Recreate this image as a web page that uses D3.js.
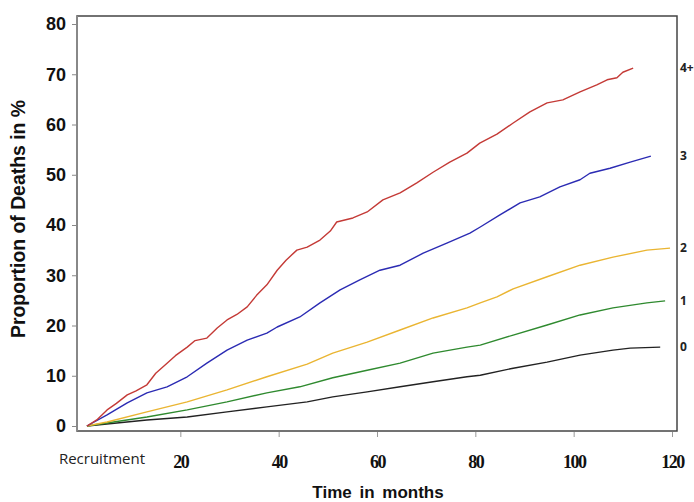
<!DOCTYPE html>
<html>
<head>
<meta charset="utf-8">
<title>Proportion of deaths by group</title>
<script src="https://cdn.jsdelivr.net/npm/d3@7"></script>
</head>
<body style="margin:0;background:#ffffff">
<div id="plot"></div>
<script>
var months0 = [1,13.2,21.4,29.5,37.6,45.8,51,58,64.7,71.4,78.3,81,87.7,94.6,101.3,108,111.5,117.6];
var deaths0 = [0,1.2,1.8,2.8,3.8,4.8,5.8,6.8,7.8,8.8,9.8,10.1,11.5,12.7,14.1,15.1,15.5,15.7];
var months1 = [1,13.2,21.4,29.5,37.6,44.3,51,58,64.7,71.4,78.3,81,87.7,94.6,101.3,108,114.9,118.6];
var deaths1 = [0,1.8,3.2,4.8,6.6,7.8,9.6,11.1,12.5,14.5,15.7,16.1,18.1,20.1,22.1,23.5,24.5,24.9];
var months2 = [1,5.1,13.2,21.4,29.5,37.6,45.8,51,58,64.7,71.4,78.3,81,84.4,87.7,94.6,101.3,108,114.9,119.6];
var deaths2 = [0,0.8,2.8,4.8,7.2,9.8,12.3,14.5,16.7,19.1,21.5,23.5,24.5,25.7,27.3,29.7,32,33.6,35,35.4];
var months3 = [1,5.1,9.2,13.2,17.3,21.4,25.4,29.5,33.6,37.6,39.7,44.3,48.4,52.5,56.5,60.6,64.7,69.4,74.2,78.9,81,85,89.1,93.1,97.2,101.3,103.3,107.4,111.5,115.7];
var deaths3 = [0,2.2,4.6,6.6,7.8,9.8,12.5,15.1,17.1,18.5,19.7,21.7,24.5,27.1,29.1,31,32,34.4,36.4,38.4,39.6,42,44.4,45.6,47.6,49,50.3,51.3,52.5,53.7];
var months4 = [1,3,5.1,7,9.2,11,13.2,15,17.3,19,21.4,23,25.4,27.5,29.5,31.5,33.6,35.5,37.6,39.7,41.5,43.7,45.8,48.4,50.5,51.8,55.1,58,61.2,64.7,68.1,71.4,74.8,78.3,80.9,84.4,87.7,91.1,94.6,97.8,101.3,104.7,106.8,108.8,110,112.1];
var deaths4 = [0,1.2,3.2,4.5,6.2,7,8.2,10.5,12.5,14,15.7,17,17.5,19.5,21.1,22.2,23.7,26,28.1,31,33,35,35.6,37,38.8,40.6,41.4,42.6,45,46.4,48.4,50.5,52.5,54.3,56.3,58.1,60.3,62.5,64.3,64.9,66.5,67.9,68.9,69.3,70.4,71.2];

var labels = ["0","1","2","3","4+"];
var colours = ["#222222","#2f8a2f","#eab532","#2b2bb3","#c43a36"];
var yTickValues = [0,10,20,30,40,50,60,70,80];
var xTickValues = [20,40,60,80,100,120];

function zipSeries(ms, ds){
    return ms.map(function(m,i){ return [m, ds[i]]; });
}

function render(){
    var svg = d3.select("#plot").append("svg")
        .attr("width",694)
        .attr("height",502)
        .attr("viewBox","0 0 694 502");

    var x = d3.scaleLinear().domain([0,120]).range([82,672]);
    var y = d3.scaleLinear().domain([0,80]).range([426,24]);

    // box around the plot
    svg.append("rect")
        .attr("x",77).attr("y",16)
        .attr("width",600).attr("height",415)
        .attr("fill","none")
        .attr("stroke","#444")
        .attr("stroke-width",1.5);
    svg.append("line")
        .attr("x1",77).attr("y1",16).attr("x2",77).attr("y2",431)
        .attr("stroke","#888")
        .attr("stroke-width",2);

    var left = svg.append("g").attr("transform","translate(76,0)")
        .call(d3.axisLeft(y).tickValues(yTickValues).tickSize(4).tickPadding(6));
    left.select(".domain").remove();
    left.selectAll(".tick line").attr("stroke","#888");
    left.selectAll(".tick text")
        .attr("font-family","Liberation Sans, Arial, sans-serif")
        .attr("font-weight","bold")
        .attr("font-size",18)
        .attr("fill","#111");

    var bottom = svg.append("g").attr("transform","translate(0,432)")
        .call(d3.axisBottom(x).tickValues(xTickValues).tickSize(5).tickPadding(18));
    bottom.select(".domain").remove();
    bottom.selectAll(".tick line").attr("stroke","#999");
    bottom.selectAll(".tick text")
        .attr("font-family","Liberation Serif, Times New Roman, serif")
        .attr("font-weight","bold")
        .attr("font-size",18)
        .attr("letter-spacing",-1.5)
        .attr("fill","#111");

    svg.append("text")
        .attr("x",102).attr("y",464)
        .attr("text-anchor","middle")
        .attr("font-family","Open Sans, sans-serif")
        .attr("font-size",15)
        .attr("fill","#222")
        .text("Recruitment");

    svg.append("text")
        .attr("x",378).attr("y",498)
        .attr("text-anchor","middle")
        .attr("font-family","Liberation Sans, Arial, sans-serif")
        .attr("font-weight","bold")
        .attr("font-size",17)
        .attr("word-spacing",3)
        .attr("fill","#111")
        .text("Time in months");

    svg.append("text")
        .attr("transform","translate(25,219) rotate(-90)")
        .attr("text-anchor","middle")
        .attr("textLength",238)
        .attr("lengthAdjust","spacingAndGlyphs")
        .attr("font-family","Liberation Sans, Arial, sans-serif")
        .attr("font-weight","bold")
        .attr("font-size",20)
        .attr("fill","#111")
        .text("Proportion of Deaths in %");

    var path = d3.line()
        .x(function(d){ return x(d[0]); })
        .y(function(d){ return y(d[1]); });

    var all = [
        zipSeries(months0,deaths0),
        zipSeries(months1,deaths1),
        zipSeries(months2,deaths2),
        zipSeries(months3,deaths3),
        zipSeries(months4,deaths4)
    ];
    all.forEach(function(s,i){
        svg.append("path")
            .datum(s)
            .attr("d",path)
            .attr("fill","none")
            .attr("stroke",colours[i])
            .attr("stroke-width",1.4)
            .attr("stroke-linejoin","round");
        var end = s[s.length-1];
        svg.append("text")
            .attr("x",680)
            .attr("y",y(end[1]))
            .attr("dy","0.35em")
            .attr("font-family","Open Sans, sans-serif")
            .attr("font-weight","bold")
            .attr("font-size",12)
            .attr("fill","#222")
            .text(labels[i]);
    });
}

render();
</script>
</body>
</html>
